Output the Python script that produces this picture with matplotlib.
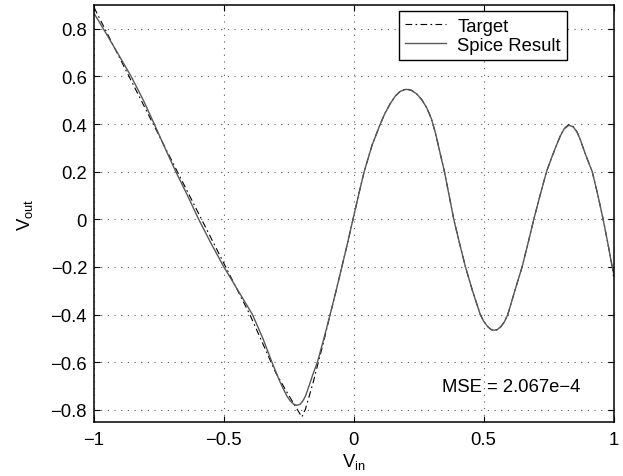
import matplotlib
matplotlib.use("Agg")
import matplotlib.pyplot as plt

plt.rcParams['font.family'] = ['Liberation Sans', 'DejaVu Sans']
plt.rcParams['mathtext.fontset'] = 'custom'
plt.rcParams['mathtext.rm'] = 'Liberation Sans'
plt.rcParams['mathtext.default'] = 'regular'

# spice result
spice_x = [-1.00, -0.964, -0.91, -0.857, -0.81, -0.768, -0.727, -0.685, -0.64, -0.597,
           -0.55, -0.50, -0.445, -0.39, -0.35, -0.315, -0.30, -0.285, -0.27, -0.257,
           -0.245, -0.232, -0.219, -0.207, -0.196, -0.185, -0.174, -0.157, -0.14, -0.115,
           -0.091, -0.068, -0.046, -0.024, -0.003, 0.018, 0.04, 0.07, 0.102, 0.12,
           0.14, 0.16, 0.18, 0.202, 0.222, 0.242, 0.262, 0.28, 0.298, 0.315,
           0.332, 0.349, 0.367, 0.385, 0.407, 0.430, 0.457, 0.487, 0.50, 0.515,
           0.528, 0.541, 0.554, 0.567, 0.58, 0.593, 0.62, 0.648, 0.671, 0.693,
           0.717, 0.742, 0.762, 0.78, 0.795, 0.81, 0.828, 0.845, 0.86, 0.872,
           0.883, 0.90, 0.918, 0.94, 0.960, 0.978, 0.995, 1.0]
spice_y = [0.865, 0.80, 0.70, 0.60, 0.50, 0.40, 0.30, 0.20, 0.10, 0.00,
           -0.10, -0.20, -0.30, -0.40, -0.50, -0.60, -0.64, -0.68, -0.715, -0.743,
           -0.762, -0.776, -0.781, -0.777, -0.763, -0.74, -0.705, -0.65, -0.60, -0.50,
           -0.40, -0.30, -0.20, -0.10, 0.00, 0.10, 0.20, 0.31, 0.40, 0.445,
           0.485, 0.518, 0.538, 0.546, 0.541, 0.527, 0.502, 0.47, 0.425, 0.36,
           0.28, 0.20, 0.10, 0.00, -0.10, -0.20, -0.30, -0.40, -0.428, -0.45,
           -0.462, -0.466, -0.462, -0.45, -0.43, -0.40, -0.30, -0.20, -0.10, 0.00,
           0.10, 0.20, 0.26, 0.31, 0.35, 0.38, 0.395, 0.388, 0.365, 0.335,
           0.30, 0.25, 0.20, 0.10, 0.00, -0.10, -0.20, -0.225]

# target
target_x = [-1.00, -0.80, -0.60, -0.40, -0.30, -0.25, -0.20, -0.187, -0.174, -0.155,
            -0.14, -0.115, -0.091, -0.068, -0.046, -0.024, -0.003, 0.018, 0.04, 0.07,
            0.102, 0.12, 0.14, 0.16, 0.18, 0.202, 0.222, 0.242, 0.262, 0.28,
            0.298, 0.315, 0.332, 0.349, 0.367, 0.385, 0.407, 0.430, 0.457, 0.487,
            0.50, 0.515, 0.528, 0.541, 0.554, 0.567, 0.58, 0.593, 0.62, 0.648,
            0.671, 0.693, 0.717, 0.742, 0.762, 0.78, 0.795, 0.81, 0.828, 0.845,
            0.86, 0.872, 0.883, 0.90, 0.918, 0.94, 0.960, 0.978, 0.995, 1.0]
target_y = [0.89, 0.46, 0.03, -0.40, -0.645, -0.74, -0.83, -0.80, -0.752, -0.68,
            -0.615, -0.51, -0.40, -0.30, -0.20, -0.10, 0.00, 0.10, 0.20, 0.31,
            0.40, 0.445, 0.485, 0.518, 0.539, 0.548, 0.542, 0.527, 0.502, 0.47,
            0.425, 0.36, 0.28, 0.20, 0.10, 0.00, -0.10, -0.20, -0.30, -0.40,
            -0.428, -0.45, -0.463, -0.468, -0.463, -0.45, -0.43, -0.40, -0.30, -0.20,
            -0.10, 0.00, 0.10, 0.20, 0.26, 0.31, 0.35, 0.381, 0.398, 0.39,
            0.366, 0.335, 0.30, 0.25, 0.20, 0.10, 0.00, -0.10, -0.20, -0.24]

xticks = [-1, -0.5, 0, 0.5, 1]
xticklabels = ["\u22121", "\u22120.5", "0", "0.5", "1"]
yticks = [-0.8, -0.6, -0.4, -0.2, 0, 0.2, 0.4, 0.6, 0.8]
yticklabels = ["\u22120.8", "\u22120.6", "\u22120.4", "\u22120.2", "0", "0.2", "0.4", "0.6", "0.8"]

fs = 13.3

fig = plt.figure(figsize=(6.23, 4.77), dpi=100)
ax = fig.add_axes([0.1509, 0.1138, 0.8339, 0.8736])

ax.plot(target_x, target_y, color="black", linewidth=0.8, dashes=(6, 3, 1.5, 3), label="Target")
ax.plot(spice_x, spice_y, color="0.35", linewidth=1.0, label="Spice Result")

ax.set_xlim(-1, 1)
ax.set_ylim(-0.85, 0.9)
ax.set_xticks(xticks)
ax.set_xticklabels(xticklabels, fontsize=fs)
ax.set_yticks(yticks)
ax.set_yticklabels(yticklabels, fontsize=fs)
ax.tick_params(direction="in", length=4, width=0.8, top=True, right=True)
ax.tick_params(axis="x", pad=7)
ax.tick_params(axis="y", pad=5)
for s in ax.spines.values():
    s.set_linewidth(1.1)
ax.grid(True, color="0.35", linewidth=0.8, dashes=(1, 5))

ax.set_xlabel("V$_{in}$", fontsize=fs, labelpad=2)
ax.set_ylabel("V$_{out}$", fontsize=fs, labelpad=11)

ax.text(0.34, -0.723, "MSE = 2.067e\u22124", fontsize=fs, va="baseline", ha="left")

leg = ax.legend(loc="upper right", bbox_to_anchor=(0.911, 0.985), borderaxespad=0,
                fontsize=fs, fancybox=False, framealpha=1, edgecolor="black",
                handlelength=2.2, handletextpad=0.6, labelspacing=0.1, borderpad=0.35)
leg.get_frame().set_linewidth(1.0)

fig.savefig("out.png", dpi=100)
